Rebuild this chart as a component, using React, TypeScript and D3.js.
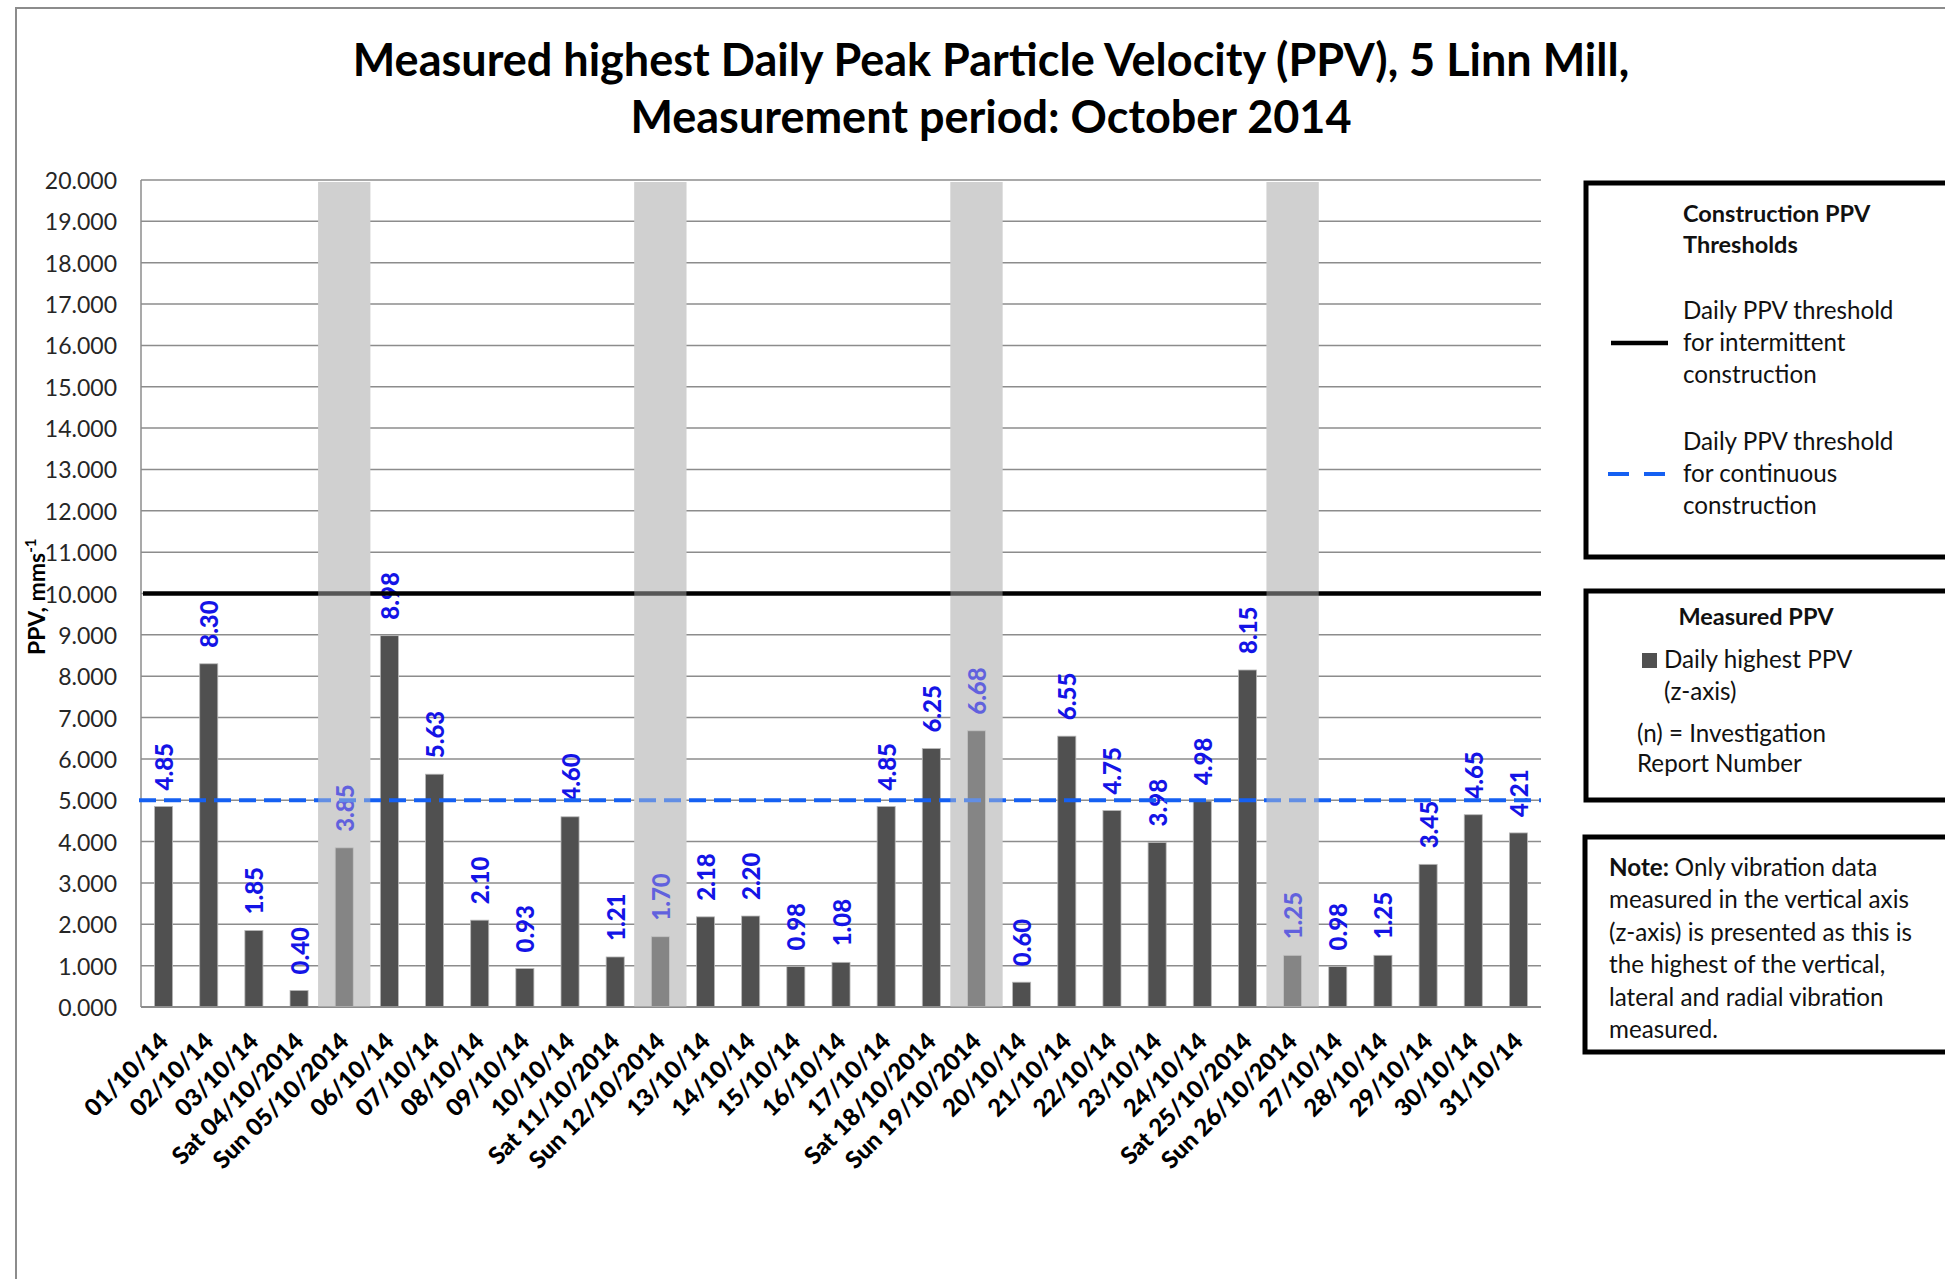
import React, { useRef, useEffect } from "react";
import { select, scaleLinear, scaleBand } from "d3";

// days of October 2014, weekend days carry a prefix like in the source sheet
const days = [
  "01/10/14", "02/10/14", "03/10/14", "Sat 04/10/2014", "Sun 05/10/2014",
  "06/10/14", "07/10/14", "08/10/14", "09/10/14", "10/10/14",
  "Sat 11/10/2014", "Sun 12/10/2014", "13/10/14", "14/10/14", "15/10/14",
  "16/10/14", "17/10/14", "Sat 18/10/2014", "Sun 19/10/2014", "20/10/14",
  "21/10/14", "22/10/14", "23/10/14", "24/10/14", "Sat 25/10/2014",
  "Sun 26/10/2014", "27/10/14", "28/10/14", "29/10/14", "30/10/14", "31/10/14",
];

// daily highest PPV (z-axis), mm/s
const ppv = [
  4.85, 8.3, 1.85, 0.4, 3.85, 8.98, 5.63, 2.1, 0.93, 4.6,
  1.21, 1.7, 2.18, 2.2, 0.98, 1.08, 4.85, 6.25, 6.68, 0.6,
  6.55, 4.75, 3.98, 4.98, 8.15, 1.25, 0.98, 1.25, 3.45, 4.65, 4.21,
];

// sundays are greyed out
const shadedDays = ["Sun 05/10/2014", "Sun 12/10/2014", "Sun 19/10/2014", "Sun 26/10/2014"];

const yDomain = [0, 20];
const intermittentThreshold = 10;
const continuousThreshold = 5;

const titleLines = [
  "Measured highest Daily Peak Particle Velocity (PPV), 5 Linn Mill,",
  "Measurement period: October 2014",
];

const thresholdLegendTitle = ["Construction  PPV", "Thresholds"];
const intermittentLegend = ["Daily PPV threshold", "for intermittent", "construction"];
const continuousLegend = ["Daily PPV threshold", "for continuous", "construction"];
const measuredLegendTitle = "Measured PPV";
const measuredLegend = ["Daily highest PPV", "(z-axis)"];
const investigationLegend = ["(n) = Investigation", "Report Number"];
const noteLines = [
  "Only vibration data",
  "measured in the vertical axis",
  "(z-axis) is presented  as this is",
  "the highest of the vertical,",
  "lateral and radial vibration",
  "measured.",
];

const W = 1945;
const H = 1279;
const FONT = "Lato, 'Open Sans', sans-serif";

const App: React.FC = () => {
  const svgRef = useRef(null);

  useEffect(() => {
    const svg = select(svgRef.current);
    svg.selectAll("*").remove();

    const left = 141,
      right = 1541,
      top = 180,
      bottom = 1007;

    const x = scaleBand().domain(days).range([left, right]).padding(0);
    const y = scaleLinear().domain(yDomain).range([bottom, top]);
    const barW = x.step() / 2.5; // excel gap width 150%
    const cx = (d: string) => (x(d) as number) + x.bandwidth() / 2;

    // outer chart border (only top/left visible)
    svg
      .append("rect")
      .attr("x", 16)
      .attr("y", 8)
      .attr("width", W)
      .attr("height", H)
      .attr("fill", "none")
      .attr("stroke", "#8c8c8c")
      .attr("stroke-width", 2);

    // title
    svg
      .append("g")
      .selectAll("text")
      .data(titleLines)
      .enter()
      .append("text")
      .attr("x", 991)
      .attr("y", (d, i) => 76 + i * 57)
      .attr("text-anchor", "middle")
      .attr("font-family", FONT)
      .attr("font-weight", 700)
      .attr("font-size", 45)
      .attr("fill", "#000")
      .text((d) => d);

    // gridlines
    const ticks = y.ticks(20);
    svg
      .append("g")
      .selectAll("line")
      .data(ticks)
      .enter()
      .append("line")
      .attr("x1", left)
      .attr("x2", right)
      .attr("y1", (d) => y(d))
      .attr("y2", (d) => y(d))
      .attr("stroke", "#8c8c8c")
      .attr("stroke-width", 1.5);

    svg
      .append("line")
      .attr("x1", left)
      .attr("x2", left)
      .attr("y1", y(yDomain[1]))
      .attr("y2", y(0))
      .attr("stroke", "#8c8c8c")
      .attr("stroke-width", 1.5);

    // weekend shading, opaque base (hides gridlines)
    const shadeRect = (g: any) =>
      g
        .attr("x", (d: string) => (x(d) as number) - 3.5)
        .attr("width", x.step() + 7)
        .attr("y", y(yDomain[1]) + 2)
        .attr("height", y(0) - y(yDomain[1]) - 2);

    svg
      .append("g")
      .selectAll("rect")
      .data(shadedDays)
      .enter()
      .append("rect")
      .call(shadeRect)
      .attr("fill", "#d0d0d0");

    // bars
    svg
      .append("g")
      .selectAll("rect")
      .data(ppv)
      .enter()
      .append("rect")
      .attr("x", (d, i) => cx(days[i]) - barW / 2)
      .attr("y", (d) => y(d))
      .attr("width", barW)
      .attr("height", (d) => y(0) - y(d))
      .attr("fill", "#505050")
      .attr("stroke", "#b8b8b8")
      .attr("stroke-width", 0.8);

    // x axis line
    svg
      .append("line")
      .attr("x1", left)
      .attr("x2", right)
      .attr("y1", y(0))
      .attr("y2", y(0))
      .attr("stroke", "#8c8c8c")
      .attr("stroke-width", 2);

    // value labels
    svg
      .append("g")
      .selectAll("text")
      .data(ppv)
      .enter()
      .append("text")
      .attr("transform", (d, i) => `translate(${cx(days[i])},${y(d) - 16}) rotate(-90)`)
      .attr("dominant-baseline", "central")
      .attr("font-family", FONT)
      .attr("font-weight", 900)
      .attr("font-size", 24)
      .attr("fill", "#1414e6")
      .text((d) => d.toFixed(2));

    // thresholds
    svg
      .append("line")
      .attr("x1", left + 2)
      .attr("x2", right)
      .attr("y1", y(intermittentThreshold))
      .attr("y2", y(intermittentThreshold))
      .attr("stroke", "#000")
      .attr("stroke-width", 4.5);

    svg
      .append("line")
      .attr("x1", left - 2)
      .attr("x2", right)
      .attr("y1", y(continuousThreshold))
      .attr("y2", y(continuousThreshold))
      .attr("stroke", "#1560f2")
      .attr("stroke-width", 4)
      .attr("stroke-dasharray", "17 8");

    // translucent shading over sundays
    svg
      .append("g")
      .selectAll("rect")
      .data(shadedDays)
      .enter()
      .append("rect")
      .call(shadeRect)
      .attr("fill", "#d0d0d0")
      .attr("opacity", 0.41);

    // y tick labels
    svg
      .append("g")
      .selectAll("text")
      .data(ticks)
      .enter()
      .append("text")
      .attr("x", 117)
      .attr("y", (d) => y(d))
      .attr("text-anchor", "end")
      .attr("dominant-baseline", "central")
      .attr("font-family", FONT)
      .attr("font-size", 23)
      .attr("fill", "#262626")
      .text((d) => d.toFixed(3));

    // x tick labels
    svg
      .append("g")
      .selectAll("text")
      .data(days)
      .enter()
      .append("text")
      .attr("transform", (d) => `translate(${cx(d) + 6},${y(0) + 36}) rotate(-45)`)
      .attr("text-anchor", "end")
      .attr("font-family", FONT)
      .attr("font-weight", 900)
      .attr("font-size", 24)
      .attr("fill", "#000")
      .text((d) => d);

    // y axis title
    const yTitle = svg
      .append("text")
      .attr("transform", "translate(45,655) rotate(-90)")
      .attr("font-family", FONT)
      .attr("font-weight", 700)
      .attr("font-size", 23)
      .attr("fill", "#000");
    yTitle.append("tspan").text("PPV, mms");
    yTitle.append("tspan").attr("dy", -9).attr("font-size", 15).text("-1");

    // legend boxes
    const box = (bx: number, by: number, bh: number) =>
      svg
        .append("rect")
        .attr("x", bx)
        .attr("y", by)
        .attr("width", 500)
        .attr("height", bh)
        .attr("fill", "#fff")
        .attr("stroke", "#000")
        .attr("stroke-width", 5);

    const lines = (arr: string[], tx: number, ty: number, bold = false, lh = 32) =>
      svg
        .append("g")
        .selectAll("text")
        .data(arr)
        .enter()
        .append("text")
        .attr("x", tx)
        .attr("y", (d, i) => ty + i * lh)
        .attr("font-family", FONT)
        .attr("font-weight", bold ? 700 : 400)
        .attr("font-size", bold ? 23.5 : 24.2)
        .attr("fill", "#111")
        .text((d) => d);

    box(1586, 183, 374);
    lines(thresholdLegendTitle, 1683, 222, true, 31);
    svg
      .append("line")
      .attr("x1", 1611)
      .attr("x2", 1668)
      .attr("y1", 343)
      .attr("y2", 343)
      .attr("stroke", "#000")
      .attr("stroke-width", 4.5);
    lines(intermittentLegend, 1683, 319);
    svg
      .append("line")
      .attr("x1", 1608)
      .attr("x2", 1666)
      .attr("y1", 474)
      .attr("y2", 474)
      .attr("stroke", "#1560f2")
      .attr("stroke-width", 4)
      .attr("stroke-dasharray", "21 15");
    lines(continuousLegend, 1683, 450);

    box(1586, 591, 209);
    svg
      .append("text")
      .attr("x", 1756)
      .attr("y", 625)
      .attr("text-anchor", "middle")
      .attr("font-family", FONT)
      .attr("font-weight", 700)
      .attr("font-size", 23.5)
      .attr("fill", "#111")
      .text(measuredLegendTitle);
    svg
      .append("rect")
      .attr("x", 1642)
      .attr("y", 653)
      .attr("width", 15)
      .attr("height", 15)
      .attr("fill", "#505050");
    lines(measuredLegend, 1664, 668);
    lines(investigationLegend, 1637, 742, false, 30);

    box(1585, 837, 215);
    const note = lines(noteLines, 1609, 876, false, 32.4);
    note
      .filter((d, i) => i === 0)
      .text(null)
      .call((t: any) => {
        t.append("tspan").attr("font-weight", 700).text("Note: ");
        t.append("tspan").text(noteLines[0]);
      });
  }, []);

  return (
    <svg
      ref={svgRef}
      width={W}
      height={H}
      style={{ position: "absolute", left: 0, top: 0, background: "#fff" }}
    />
  );
};

export default App;
